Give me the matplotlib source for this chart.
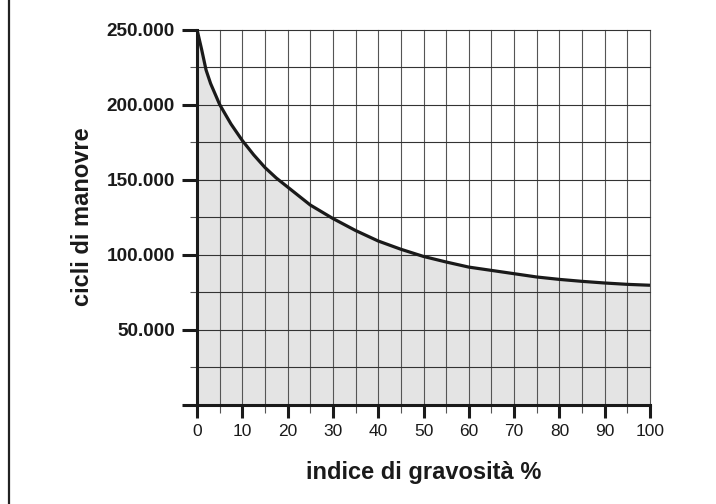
import numpy as np
import matplotlib
matplotlib.use("Agg")
import matplotlib.pyplot as plt
from matplotlib.lines import Line2D

plt.rcParams['font.family'] = ['Liberation Sans', 'DejaVu Sans']

# curve
gravity = [0, 1, 2, 3, 4, 5, 7.5, 10, 12.5, 15, 17.5, 20, 25, 30, 35, 40, 45, 50, 55, 60,
           65, 70, 75, 80, 85, 90, 95, 100]
cycles = [250000, 237000, 223000, 214000, 207000, 200000, 187000, 176000, 166500, 158000,
          151000, 145000, 133000, 124000, 116000, 109000, 103500, 98700, 95000, 91600,
          89400, 87200, 85000, 83400, 82100, 81000, 80100, 79500]

x_ticks = list(range(0, 101, 10))
x_labels = [str(v) for v in x_ticks]
y_ticks = [0, 50000, 100000, 150000, 200000, 250000]
y_labels = ['', '50.000', '100.000', '150.000', '200.000', '250.000']

W, H = 716, 504
fig = plt.figure(figsize=(W / 100, H / 100), dpi=100)
ax = fig.add_axes([197 / W, 1 - 404.5 / H, 453 / W, 375 / H])

ax.fill_between(gravity, cycles, 0, color='#e4e4e4', lw=0, zorder=1)

# grid
for xv in range(5, 101, 5):
    ax.axvline(xv, color='#555555', lw=0.8, zorder=2, clip_on=False)
for yv in range(25000, 250001, 25000):
    ax.axhline(yv, color='#333333', lw=0.8, zorder=2, clip_on=False)

ax.plot(gravity, cycles, color='#1a1a1a', lw=2.3, zorder=4,
        solid_capstyle='butt', solid_joinstyle='round')

ax.set_xlim(0, 100)
ax.set_ylim(0, 250000)

for s in ['top', 'right']:
    ax.spines[s].set_visible(False)
for s in ['left', 'bottom']:
    ax.spines[s].set_linewidth(2.2)
    ax.spines[s].set_color('#1a1a1a')
    ax.spines[s].set_zorder(5)

ax.set_xticks(x_ticks)
ax.set_xticklabels(x_labels, fontsize=12.5)
ax.set_xticks(range(5, 100, 10), minor=True)
ax.set_yticks(y_ticks)
ax.set_yticklabels(y_labels, fontsize=13.7, fontweight='bold')
ax.set_yticks(range(25000, 250000, 50000), minor=True)

ax.tick_params(axis='x', which='major', length=9.5, width=2.2, color='#1a1a1a', pad=4.5, labelcolor='#1a1a1a')
ax.tick_params(axis='x', which='minor', length=5.8, width=0.8, color='#555555')
ax.tick_params(axis='y', which='major', length=10.8, width=2.2, color='#1a1a1a', pad=5, labelcolor='#1a1a1a')
ax.tick_params(axis='y', which='minor', length=5.2, width=0.8, color='#555555')

ax.set_xlabel('indice di gravosità %', fontsize=17, fontweight='bold', labelpad=16, color='#1a1a1a')
ax.set_ylabel('cicli di manovre', fontsize=17, fontweight='bold', labelpad=9, color='#1a1a1a')

# frame line at the left edge
fig.add_artist(Line2D([8.5 / W, 8.5 / W], [0, 1], transform=fig.transFigure, lw=1.6, color='#222222'))

fig.savefig('out.png', dpi=100)
